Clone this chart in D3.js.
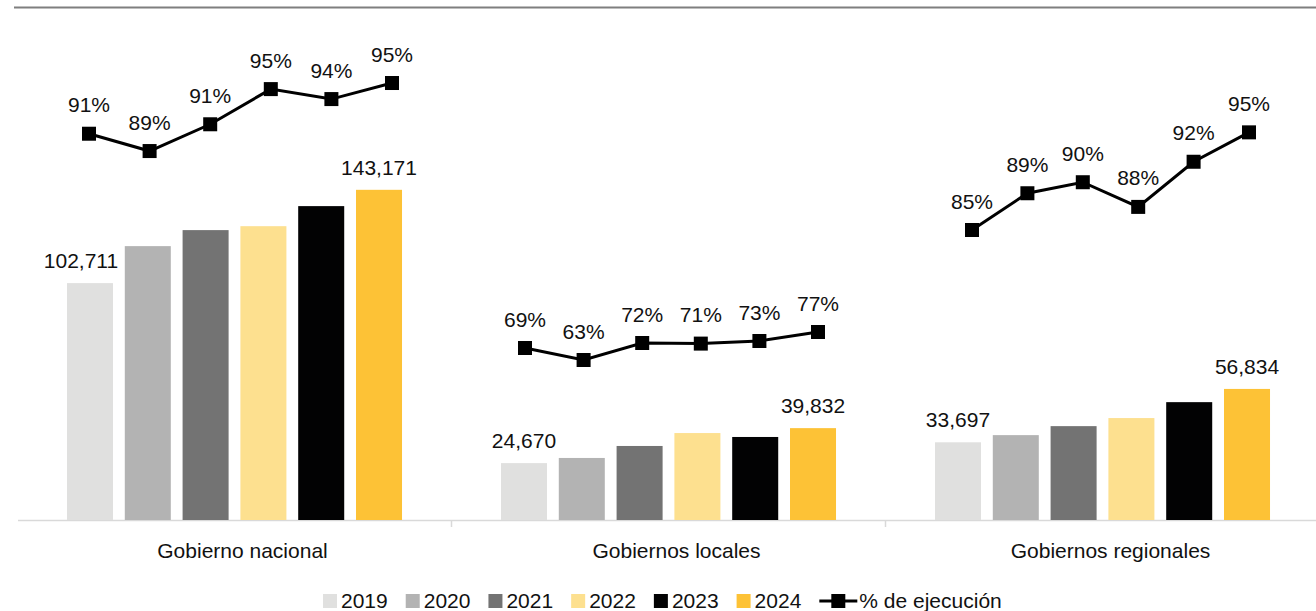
<!DOCTYPE html>
<html lang="es">
<head>
<meta charset="utf-8">
<script src="https://cdnjs.cloudflare.com/ajax/libs/d3/7.8.5/d3.min.js"></script>
<style>
  body { margin: 0; background: #fff; }
  svg { display: block; font-family: "Liberation Sans", Arial, sans-serif; }
  .lbl { font-size: 21px; fill: #111; }
</style>
</head>
<body>
<svg width="1316" height="611"></svg>
<script>
// categorias y series
var groups = ["Gobierno nacional", "Gobiernos locales", "Gobiernos regionales"];
var years = ["2019", "2020", "2021", "2022", "2023", "2024"];
var colors = ["#e0e0df", "#b3b3b3", "#737373", "#fde08f", "#020203", "#fdc236"];

// monto ejecutado (millones)
var montoNacional   = [102711, 118750, 125700, 127400, 136100, 143171];
var montoLocales    = [24670, 26900, 32100, 37700, 36000, 39832];
var montoRegionales = [33697, 36800, 40700, 44200, 51100, 56834];

// % de ejecucion
var ejecNacional   = [90.55, 88.9, 91.45, 94.8, 93.85, 95.38];
var ejecLocales    = [69.2, 63.2, 71.7, 71.4, 72.7, 77.2];
var ejecRegionales = [85.4, 88.9, 89.95, 87.6, 91.9, 94.7];

var montos = [montoNacional, montoLocales, montoRegionales];
var ejec = [ejecNacional, ejecLocales, ejecRegionales];

var svg = d3.select("svg");
var fmt = d3.format(",");

var x0 = d3.scaleBand().domain(groups).range([17.5, 1319.5]);
var x1 = d3.scaleBand().domain(years).range([0, x0.bandwidth()])
    .paddingInner(0.204).paddingOuter(0.856);
var y = d3.scaleLinear().domain([0, 160000]).range([520, 151]);

// cada panel tiene su propio eje secundario (y su propio ancho de linea)
var yPct = [
  d3.scaleLinear().domain([80, 100]).range([244.5, 34.5]),
  d3.scaleLinear().domain([60, 80]).range([366.4, 326.4]),
  d3.scaleLinear().domain([80, 100]).range([286.7, 76.7])
];
var xPct = [
  d3.scalePoint().domain(years).range([89, 392]),
  d3.scalePoint().domain(years).range([525, 818]),
  d3.scalePoint().domain(years).range([972, 1249])
];
var valShift = [-9, 0, 0];

// linea superior
svg.append("line")
    .attr("x1", 14).attr("x2", 1316).attr("y1", 7.5).attr("y2", 7.5)
    .style("stroke", "#7f7f7f").style("stroke-width", 2);

// eje x
var axis = svg.append("g")
    .attr("transform", "translate(0,520)")
    .call(d3.axisBottom(x0).tickSize(0).tickSizeOuter(0).tickPadding(23));
axis.select(".domain").style("stroke", "#d9d9d9").style("stroke-width", 1.5);
axis.selectAll("text").attr("class", "lbl").attr("dx", 8)
    .attr("font-family", null).attr("font-size", null);

svg.selectAll(".sep")
    .data(groups.slice(1))
    .enter().append("line")
    .attr("class", "sep")
    .attr("x1", function (d) { return x0(d); })
    .attr("x2", function (d) { return x0(d); })
    .attr("y1", 520).attr("y2", 527)
    .style("stroke", "#d9d9d9").style("stroke-width", 1.5);

groups.forEach(function (g, gi) {
  var p = svg.append("g").attr("transform", "translate(" + x0(g) + ",0)");
  var vals = montos[gi];
  var cx = function (i) { return x1(years[i]) + x1.bandwidth() / 2; };

  p.selectAll("rect")
      .data(vals)
      .enter().append("rect")
      .attr("x", function (d, i) { return x1(years[i]); })
      .attr("y", function (d) { return y(d); })
      .attr("width", x1.bandwidth())
      .attr("height", function (d) { return 520 - y(d); })
      .style("fill", function (d, i) { return colors[i]; });

  // etiquetas solo primer y ultimo año
  p.selectAll(".val")
      .data([0, vals.length - 1])
      .enter().append("text")
      .attr("class", "lbl val")
      .attr("x", function (i) { return cx(i) + (i === 0 ? valShift[gi] : 0); })
      .attr("y", function (i) { return y(vals[i]) - 15; })
      .attr("text-anchor", "middle")
      .text(function (i) { return fmt(vals[i]); });
});

// lineas de % de ejecucion
ejec.forEach(function (pct, gi) {
  var xp = xPct[gi], yp = yPct[gi];
  var lg = svg.append("g");

  lg.append("path")
      .datum(pct)
      .attr("d", d3.line()
          .x(function (d, i) { return xp(years[i]); })
          .y(function (d) { return yp(d); }))
      .style("fill", "none")
      .style("stroke", "#000")
      .style("stroke-width", 3);

  lg.selectAll(".mk")
      .data(pct)
      .enter().append("rect")
      .attr("class", "mk")
      .attr("x", function (d, i) { return xp(years[i]) - 7; })
      .attr("y", function (d) { return yp(d) - 7; })
      .attr("width", 14).attr("height", 14)
      .style("fill", "#000");

  lg.selectAll(".pct")
      .data(pct)
      .enter().append("text")
      .attr("class", "lbl pct")
      .attr("x", function (d, i) { return xp(years[i]); })
      .attr("y", function (d) { return yp(d) - 21.5; })
      .attr("text-anchor", "middle")
      .text(function (d) { return Math.round(d) + "%"; });
});

// leyenda
var legend = svg.append("g").attr("transform", "translate(323,0)");
var lx = 0;
years.forEach(function (yr, i) {
  legend.append("rect")
      .attr("x", lx).attr("y", 594).attr("width", 14).attr("height", 14)
      .style("fill", colors[i]);
  var t = legend.append("text")
      .attr("class", "lbl")
      .attr("x", lx + 18).attr("y", 608)
      .text(yr);
  lx += 18 + t.node().getComputedTextLength() + 18;
});
legend.append("line")
    .attr("x1", lx).attr("x2", lx + 38).attr("y1", 601).attr("y2", 601)
    .style("stroke", "#000").style("stroke-width", 3);
legend.append("rect")
    .attr("x", lx + 12).attr("y", 594).attr("width", 14).attr("height", 14)
    .style("fill", "#000");
legend.append("text")
    .attr("class", "lbl")
    .attr("x", lx + 40).attr("y", 608)
    .text("% de ejecución");
</script>
</body>
</html>
